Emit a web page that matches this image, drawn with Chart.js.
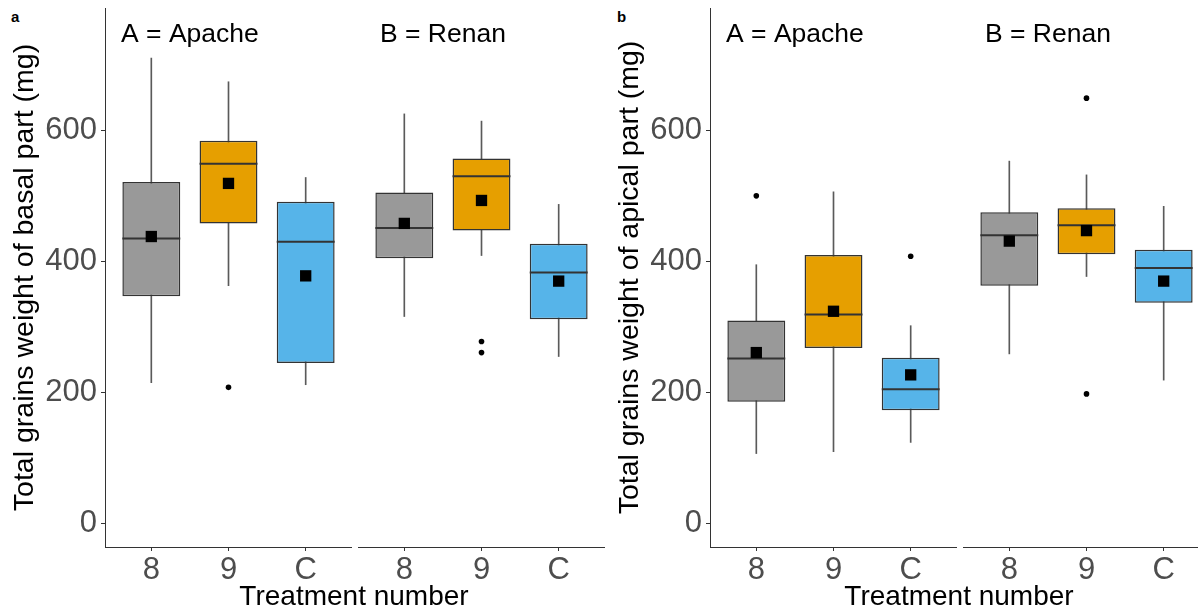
<!DOCTYPE html>
<html>
<head>
<meta charset="utf-8">
<title>Total grains weight</title>
<script src="https://cdn.jsdelivr.net/npm/chart.js@4.4.0/dist/chart.umd.min.js"></script>
<style>
  html, body { margin: 0; padding: 0; background: #fff; overflow: hidden; }
  body { position: relative; width: 1198px; height: 608px; font-family: "Liberation Sans", Arial, sans-serif; }
  canvas { position: absolute; top: 0; }
  .tag { position: absolute; top: 9px; font-size: 15px; line-height: 15px; font-weight: bold; color: #000; }
  .xtitle { position: absolute; top: 582px; width: 500px; text-align: center; font-size: 28px; line-height: 28px; color: #000; }
</style>
</head>
<body>
<div class="tag" style="left:11px">a</div>
<div class="tag" style="left:617px">b</div>
<canvas id="basalApache" width="352" height="608" style="left:0"></canvas>
<canvas id="basalRenan" width="247" height="608" style="left:358px"></canvas>
<canvas id="apicalApache" width="352" height="608" style="left:605px"></canvas>
<canvas id="apicalRenan" width="247" height="608" style="left:963px"></canvas>
<div class="xtitle" style="left:104px">Treatment number</div>
<div class="xtitle" style="left:709px">Treatment number</div>
<script>
const treatments = ['8', '9', 'C'];
const yTicks = [0, 200, 400, 600];

// a: basal part, Apache
const basalApacheMin = [215, 363, 212];
const basalApacheQ1 = [347, 458, 245];
const basalApacheMedian = [435, 549, 430];
const basalApacheQ3 = [521, 584, 491];
const basalApacheMax = [710, 674, 528];
const basalApacheMean = [438, 519, 378];
const basalApacheOutliers = [['9', 208]];

// a: basal part, Renan
const basalRenanMin = [316, 409, 255];
const basalRenanQ1 = [405, 447, 312];
const basalRenanMedian = [451, 530, 383];
const basalRenanQ3 = [505, 557, 427];
const basalRenanMax = [625, 614, 487];
const basalRenanMean = [458, 493, 370];
const basalRenanOutliers = [['9', 278], ['9', 261]];

// b: apical part, Apache
const apicalApacheMin = [107, 110, 124];
const apicalApacheQ1 = [186, 268, 173];
const apicalApacheMedian = [252, 319, 205];
const apicalApacheQ3 = [310, 410, 253];
const apicalApacheMax = [395, 506, 302];
const apicalApacheMean = [261, 324, 227];
const apicalApacheOutliers = [['8', 500], ['C', 408]];

// b: apical part, Renan
const apicalRenanMin = [259, 377, 219];
const apicalRenanQ1 = [363, 411, 337];
const apicalRenanMedian = [440, 455, 390];
const apicalRenanQ3 = [475, 481, 418];
const apicalRenanMax = [553, 532, 484];
const apicalRenanMean = [431, 447, 370];
const apicalRenanOutliers = [['9', 649], ['9', 198]];

const boxFills = ['#999999', '#E69F00', '#56B4E9'];
const FONT = '"Liberation Sans", Arial, sans-serif';
const BOX_WIDTH = 0.75;
Chart.defaults.font.family = FONT;

// facet label ("A = Apache") drawn between the first two treatments
const stripLabel = {
    id: 'stripLabel',
    afterDatasetsDraw(chart, args, opts) {
        const {ctx, scales} = chart;
        ctx.save();
        ctx.font = '26.5px ' + FONT;
        ctx.fillStyle = '#000';
        ctx.textAlign = 'center';
        ctx.textBaseline = 'middle';
        ctx.fillText(opts.text, scales.x.getPixelForValue(0.5), scales.y.getPixelForValue(746));
        ctx.restore();
    }
};

function drawFacet(id, f, yTitle, strip) {
    const showY = yTitle !== null;
    const at = values => values.map((v, i) => ({x: i, y: v}));
    const halfBox = c => {
        const x = c.chart.scales.x;
        return (x.getPixelForValue(1) - x.getPixelForValue(0)) * BOX_WIDTH / 2;
    };
    new Chart(document.getElementById(id), {
        type: 'bar',
        data: {
            datasets: [
                {
                    type: 'scatter',
                    data: at(f.mean),
                    pointStyle: 'rect',
                    pointRadius: 8,
                    pointBackgroundColor: '#000',
                    pointBorderWidth: 0,
                    order: 0
                },
                {
                    type: 'scatter',
                    data: f.outliers.map(([t, v]) => ({x: treatments.indexOf(t), y: v})),
                    pointStyle: 'circle',
                    pointRadius: 2.8,
                    pointBackgroundColor: '#000',
                    pointBorderWidth: 0,
                    order: 1
                },
                {
                    type: 'scatter',
                    data: at(f.median),
                    pointStyle: 'line',
                    pointRadius: halfBox,
                    pointBorderColor: '#333333',
                    pointBorderWidth: 2,
                    order: 2
                },
                {
                    data: f.q1.map((v, i) => ({x: i, y: [v, f.q3[i]]})),
                    backgroundColor: boxFills,
                    borderColor: '#333333',
                    borderWidth: 1.5,
                    borderSkipped: false,
                    categoryPercentage: 1,
                    barPercentage: BOX_WIDTH,
                    grouped: false,
                    order: 3
                },
                {
                    data: f.min.map((v, i) => ({x: i, y: [v, f.max[i]]})),
                    backgroundColor: '#5a5a5a',
                    barThickness: 1,
                    maxBarThickness: 1,
                    grouped: false,
                    order: 4
                }
            ]
        },
        options: {
            responsive: false,
            animation: false,
            events: [],
            layout: {autoPadding: false, padding: {top: 8, left: 0, right: 0, bottom: 0}},
            plugins: {
                legend: {display: false},
                tooltip: {enabled: false},
                stripLabel: {text: strip}
            },
            scales: {
                x: {
                    type: 'linear',
                    min: -0.6,
                    max: 2.6,
                    offset: false,
                    afterBuildTicks: s => { s.ticks = treatments.map((t, i) => ({value: i})); },
                    afterFit: s => { s.height = 61; },
                    border: {display: true, color: '#333333', width: 1},
                    grid: {drawOnChartArea: false, offset: false, tickLength: 4, color: '#333333'},
                    ticks: {
                        color: '#4D4D4D',
                        font: {size: 31, lineHeight: 1},
                        padding: 4,
                        maxRotation: 0,
                        autoSkip: false,
                        callback: v => treatments[v]
                    }
                },
                y: {
                    min: -35.5,
                    max: 786.5,
                    display: showY,
                    afterBuildTicks: s => { s.ticks = yTicks.map(v => ({value: v})); },
                    afterFit: s => {
                        if (showY) s.width = 105;
                        s.paddingTop = 0;
                        s.paddingBottom = 0;
                    },
                    border: {display: true, color: '#333333', width: 1},
                    grid: {drawOnChartArea: false, tickLength: 4, color: '#333333'},
                    ticks: {color: '#4D4D4D', font: {size: 31}, padding: 4},
                    title: {
                        display: showY,
                        text: yTitle || '',
                        color: '#000',
                        font: {size: 28.5},
                        padding: {top: 8, bottom: 0}
                    }
                }
            }
        },
        plugins: [stripLabel]
    });
}

drawFacet('basalApache', {
    min: basalApacheMin, q1: basalApacheQ1, median: basalApacheMedian, q3: basalApacheQ3,
    max: basalApacheMax, mean: basalApacheMean, outliers: basalApacheOutliers
}, 'Total grains weight of basal part (mg)', 'A = Apache');

drawFacet('basalRenan', {
    min: basalRenanMin, q1: basalRenanQ1, median: basalRenanMedian, q3: basalRenanQ3,
    max: basalRenanMax, mean: basalRenanMean, outliers: basalRenanOutliers
}, null, 'B = Renan');

drawFacet('apicalApache', {
    min: apicalApacheMin, q1: apicalApacheQ1, median: apicalApacheMedian, q3: apicalApacheQ3,
    max: apicalApacheMax, mean: apicalApacheMean, outliers: apicalApacheOutliers
}, 'Total grains weight of apical part (mg)', 'A = Apache');

drawFacet('apicalRenan', {
    min: apicalRenanMin, q1: apicalRenanQ1, median: apicalRenanMedian, q3: apicalRenanQ3,
    max: apicalRenanMax, mean: apicalRenanMean, outliers: apicalRenanOutliers
}, null, 'B = Renan');
</script>
</body>
</html>
